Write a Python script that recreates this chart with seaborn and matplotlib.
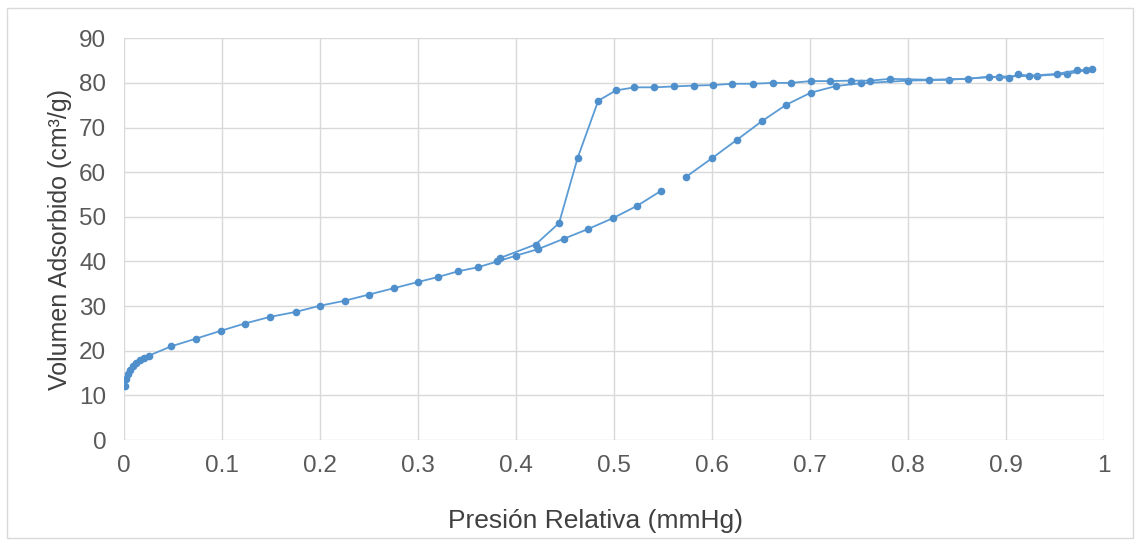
import numpy as np
import pandas as pd
import matplotlib
matplotlib.use("Agg")
import matplotlib.pyplot as plt
import seaborn as sns
from matplotlib.patches import Rectangle

# Adsorption branch, first segment (0 -> ~0.55)
ads1_x = [0.0005, 0.002, 0.004, 0.006, 0.009, 0.012, 0.016, 0.020, 0.025, 0.048,
          0.073, 0.099, 0.123, 0.149, 0.175, 0.200, 0.225, 0.250, 0.275, 0.300,
          0.320, 0.341, 0.361, 0.381, 0.400, 0.423, 0.449, 0.474, 0.499, 0.524, 0.548]
ads1_y = [12.0, 13.6, 14.8, 15.6, 16.5, 17.2, 17.9, 18.4, 18.9, 21.0,
          22.7, 24.5, 26.1, 27.6, 28.7, 30.1, 31.2, 32.6, 34.0, 35.4,
          36.5, 37.8, 38.7, 40.0, 41.3, 42.8, 45.1, 47.3, 49.7, 52.5, 55.8]

# Adsorption branch, second segment (~0.57 -> 0.99)
ads2_x = [0.574, 0.600, 0.626, 0.651, 0.676, 0.701, 0.727, 0.752, 0.800, 0.842,
          0.893, 0.932, 0.963, 0.988]
ads2_y = [59.0, 63.1, 67.3, 71.4, 75.1, 77.8, 79.3, 79.9, 80.5, 80.7,
          81.4, 81.6, 82.0, 83.1]

# Desorption branch
des_x = [0.982, 0.973, 0.952, 0.924, 0.913, 0.903, 0.883, 0.862, 0.822, 0.782,
         0.762, 0.742, 0.721, 0.701, 0.681, 0.662, 0.642, 0.621, 0.601, 0.582,
         0.561, 0.541, 0.521, 0.502, 0.484, 0.463, 0.444, 0.420, 0.384]
des_y = [82.9, 82.8, 82.0, 81.6, 81.9, 81.1, 81.4, 80.9, 80.7, 80.9,
         80.5, 80.5, 80.4, 80.4, 80.0, 80.0, 79.8, 79.8, 79.5, 79.4,
         79.2, 79.0, 79.0, 78.3, 76.0, 63.2, 48.6, 43.8, 40.8]

x_ticks = [0, 0.1, 0.2, 0.3, 0.4, 0.5, 0.6, 0.7, 0.8, 0.9, 1.0]
x_tick_labels = ["0", "0.1", "0.2", "0.3", "0.4", "0.5", "0.6", "0.7", "0.8", "0.9", "1"]
y_ticks = [0, 10, 20, 30, 40, 50, 60, 70, 80, 90]

x_label = "Presión Relativa (mmHg)"
y_label = "Volumen Adsorbido (cm³/g)"

df = pd.concat([
    pd.DataFrame({"x": ads1_x, "y": ads1_y, "seg": "ads1"}),
    pd.DataFrame({"x": ads2_x, "y": ads2_y, "seg": "ads2"}),
    pd.DataFrame({"x": des_x, "y": des_y, "seg": "des"}),
], ignore_index=True)

sns.set_theme(style="white")
plt.rcParams["font.family"] = ["Liberation Sans", "DejaVu Sans"]

fig = plt.figure(figsize=(11.4, 5.46), dpi=100)
ax = fig.add_axes([0.109, 0.194, 0.859, 0.736])

blue = "#5B9BD5"
sns.lineplot(data=df, x="x", y="y", units="seg", estimator=None, sort=False,
             color=blue, linewidth=1.3, marker="o", markersize=5.5,
             markeredgewidth=0, markerfacecolor="#4F8FCB", ax=ax)

ax.set_xlim(0, 1.0)
ax.set_ylim(0, 90)
ax.set_xticks(x_ticks)
ax.set_xticklabels(x_tick_labels)
ax.set_yticks(y_ticks)
ax.grid(True, color="#D9D9D9", linewidth=1.0)
ax.set_axisbelow(True)
for s in ax.spines.values():
    s.set_visible(False)
ax.tick_params(axis="both", length=0, labelsize=17.5, labelcolor="#595959")
ax.tick_params(axis="x", pad=11)
ax.tick_params(axis="y", pad=13)
ax.set_xlabel(x_label, fontsize=19, color="#404040")
ax.xaxis.set_label_coords(0.481, -0.172)
ax.set_ylabel(y_label, fontsize=18, color="#404040", labelpad=5)

fig.patches.append(Rectangle((0.006, 0.014), 0.988, 0.972, transform=fig.transFigure,
                             fill=False, edgecolor="#D9D9D9", linewidth=1.0))

fig.savefig("out.png", dpi=100)
